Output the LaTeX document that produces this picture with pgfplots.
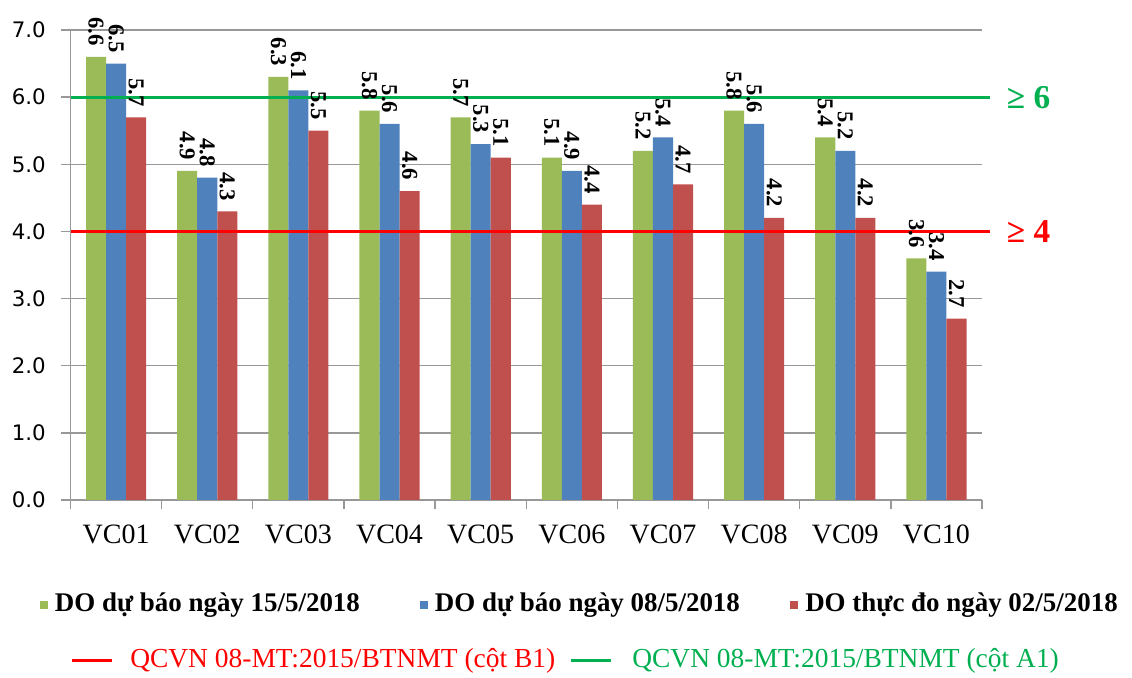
\documentclass[border=0pt]{standalone}
\usepackage{pgfplots}
\pgfplotsset{compat=1.18}
\usepackage{fontspec}
\setmainfont{Liberation Serif}
\newfontfamily\dejavu{DejaVu Sans}

\definecolor{barG}{HTML}{9BBB59}
\definecolor{barB}{HTML}{4F81BD}
\definecolor{barR}{HTML}{C0504D}
\definecolor{limG}{HTML}{00B050}
\definecolor{limR}{HTML}{FF0000}
\definecolor{axgray}{HTML}{989898}

\begin{document}
\begin{tikzpicture}
  \path[use as bounding box] (0,0) rectangle (849pt,508.5pt);
  \begin{axis}[
      at={(52.9pt,133.5pt)}, anchor=south west,
      scale only axis,
      width=683.6pt, height=352.5pt,
      xmin=-0.5, xmax=9.5,
      ymin=0, ymax=7,
      ytick={0,1,...,7},
      xtick={-0.5,0.5,...,9.5},
      x tick label as interval,
      xticklabels={VC01,VC02,VC03,VC04,VC05,VC06,VC07,VC08,VC09,VC10},
      axis lines*=left,
      axis line style={axgray, line width=1pt},
      tick style={axgray, line width=1pt},
      tick align=outside,
      major tick length=7pt,
      xtick pos=bottom, ytick pos=left,
      ymajorgrids,
      grid style={axgray, line width=1pt},
      /pgf/number format/.cd, fixed, fixed zerofill, precision=1, assume math mode=true,
      /pgfplots/.cd,
      yticklabel style={font=\dejavu\fontsize{16}{18}\selectfont, xshift=-8pt},
      xticklabel style={font=\rmfamily\fontsize{21}{24}\selectfont, yshift=-8pt},
      ybar, bar width=0.22,
      clip=false,
      nodes near coords,
      every node near coord/.append style={rotate=-90, anchor=east,
        font=\rmfamily\bfseries\fontsize{17}{19}\selectfont, inner xsep=8pt, inner ysep=0pt},
    ]
    \addplot[fill=barG, draw=none, bar shift=-0.22] coordinates {
      (0,6.6) (1,4.9) (2,6.3) (3,5.8) (4,5.7) (5,5.1) (6,5.2) (7,5.8) (8,5.4) (9,3.6)};
    \addplot[fill=barB, draw=none, bar shift=0] coordinates {
      (0,6.5) (1,4.8) (2,6.1) (3,5.6) (4,5.3) (5,4.9) (6,5.4) (7,5.6) (8,5.2) (9,3.4)};
    \addplot[fill=barR, draw=none, bar shift=0.22] coordinates {
      (0,5.7) (1,4.3) (2,5.5) (3,4.6) (4,5.1) (5,4.4) (6,4.7) (7,4.2) (8,4.2) (9,2.7)};
    \addplot[sharp plot, limG, line width=2.25pt, nodes near coords={}, bar shift=0] coordinates {(-0.5,6) (9.59,6)};
    \addplot[sharp plot, limR, line width=2.25pt, nodes near coords={}, bar shift=0] coordinates {(-0.5,4) (9.59,4)};
    \node[anchor=west, xshift=9pt, text=limG, font=\rmfamily\bfseries\fontsize{25}{27}\selectfont] at (axis cs:9.59,6) {≥ 6};
    \node[anchor=west, xshift=9pt, text=limR, font=\rmfamily\bfseries\fontsize{25}{27}\selectfont] at (axis cs:9.59,4) {≥ 4};
  \end{axis}

  % legend
  \begin{scope}[font=\bfseries\fontsize{20.2}{22}\selectfont]
    \fill[barG] (30pt,51.75pt) rectangle ++(6pt,6pt);
    \node[anchor=west, inner sep=0pt] at (41pt,54.75pt) {DO dự báo ngày 15/5/2018};
    \fill[barB] (315pt,51.75pt) rectangle ++(6pt,6pt);
    \node[anchor=west, inner sep=0pt] at (326pt,54.75pt) {DO dự báo ngày 08/5/2018};
    \fill[barR] (592.5pt,51.75pt) rectangle ++(6pt,6pt);
    \node[anchor=west, inner sep=0pt] at (603.75pt,54.75pt) {DO thực đo ngày 02/5/2018};
  \end{scope}
  \begin{scope}[font=\fontsize{20.6}{22}\selectfont]
    \draw[limR, line width=2.25pt] (54pt,12.75pt) -- (84pt,12.75pt);
    \node[anchor=west, inner sep=0pt, text=limR] at (97.5pt,12.75pt) {QCVN 08-MT:2015/BTNMT (cột B1)};
    \draw[limG, line width=2.25pt] (428pt,12.75pt) -- (458pt,12.75pt);
    \node[anchor=west, inner sep=0pt, text=limG] at (474pt,12.75pt) {QCVN 08-MT:2015/BTNMT (cột A1)};
  \end{scope}
\end{tikzpicture}
\end{document}
